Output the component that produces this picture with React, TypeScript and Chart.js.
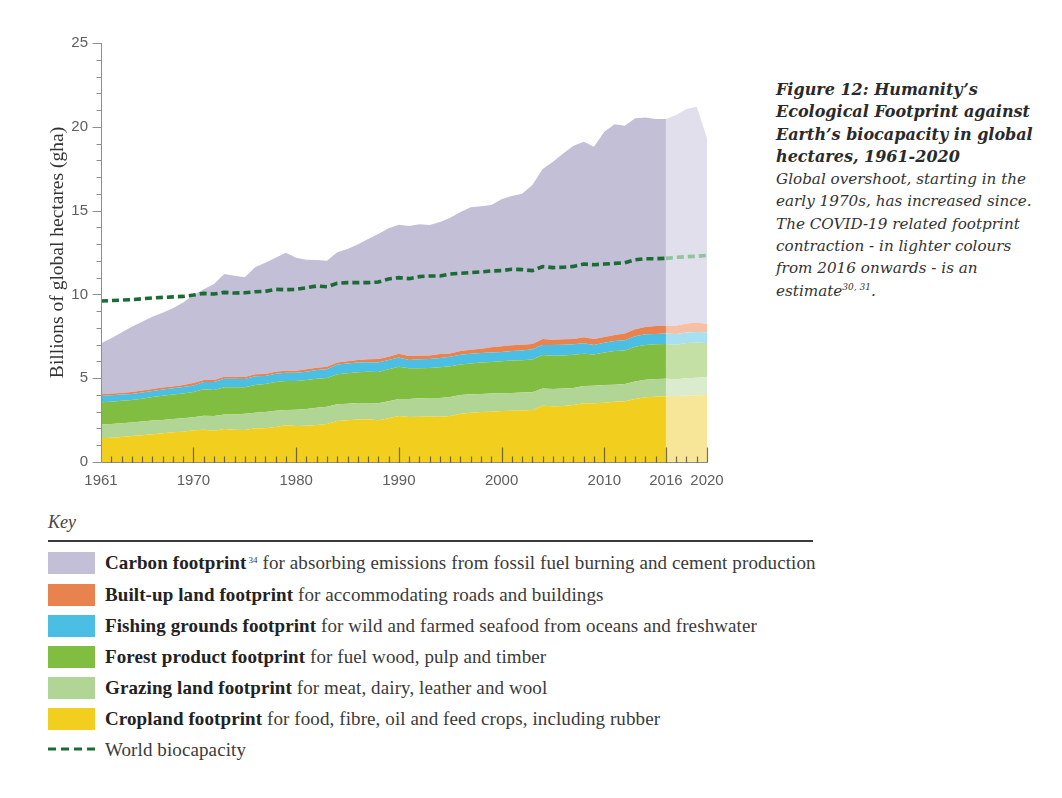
import React, { useEffect, useRef } from "react";
import { Chart, registerables } from "chart.js";

Chart.register(...registerables);

// ---------------- DATA ----------------
const years = Array.from({ length: 60 }, (_, i) => 1961 + i); // 1961..2020
const labeledYears = [1961, 1970, 1980, 1990, 2000, 2010, 2016, 2020];
const majorTickYears = [1970, 1980, 1990, 2000, 2010, 2016, 2020];
const estimateStartYear = 2016;

// Billions of global hectares, per component (stacked bottom → top)
const cropland = [
  1.41, 1.45, 1.49, 1.55, 1.59, 1.65, 1.71, 1.77, 1.81, 1.89,
  1.93, 1.87, 1.97, 1.93, 1.91, 2.01, 2.01, 2.09, 2.19, 2.15,
  2.17, 2.21, 2.27, 2.45, 2.49, 2.53, 2.55, 2.49, 2.61, 2.74,
  2.68, 2.70, 2.72, 2.70, 2.74, 2.88, 2.94, 2.98, 3.00, 3.04,
  3.06, 3.08, 3.10, 3.36, 3.32, 3.34, 3.40, 3.50, 3.50, 3.54,
  3.60, 3.62, 3.76, 3.86, 3.90, 3.92, 3.94, 3.96, 3.98, 4.00,
];
const grazing = [
  0.84, 0.82, 0.82, 0.80, 0.82, 0.82, 0.80, 0.80, 0.80, 0.78,
  0.83, 0.87, 0.87, 0.91, 0.97, 0.93, 0.97, 0.97, 0.91, 0.97,
  0.99, 1.03, 1.03, 0.99, 0.99, 0.99, 0.97, 1.01, 1.01, 1.02,
  1.08, 1.10, 1.10, 1.12, 1.14, 1.12, 1.10, 1.08, 1.08, 1.06,
  1.06, 1.06, 1.06, 1.02, 1.04, 1.04, 1.02, 1.03, 1.05, 1.05,
  1.01, 1.03, 1.05, 1.05, 1.05, 1.05, 0.99, 1.03, 1.05, 1.07,
];
const forest = [
  1.31, 1.33, 1.35, 1.35, 1.37, 1.41, 1.45, 1.45, 1.47, 1.51,
  1.58, 1.56, 1.62, 1.62, 1.58, 1.65, 1.67, 1.71, 1.73, 1.71,
  1.73, 1.73, 1.71, 1.79, 1.81, 1.83, 1.87, 1.87, 1.91, 1.93,
  1.83, 1.79, 1.79, 1.83, 1.83, 1.81, 1.83, 1.87, 1.89, 1.91,
  1.93, 1.93, 1.95, 2.00, 1.98, 1.98, 1.98, 1.93, 1.87, 1.95,
  2.01, 2.01, 2.07, 2.07, 2.07, 2.07, 2.07, 2.11, 2.09, 2.03,
];
const fishing = [
  0.38, 0.38, 0.36, 0.36, 0.36, 0.36, 0.36, 0.38, 0.39, 0.39,
  0.43, 0.47, 0.51, 0.51, 0.49, 0.52, 0.48, 0.50, 0.50, 0.50,
  0.50, 0.52, 0.52, 0.58, 0.58, 0.58, 0.56, 0.56, 0.56, 0.54,
  0.50, 0.54, 0.54, 0.56, 0.57, 0.59, 0.59, 0.57, 0.57, 0.55,
  0.57, 0.59, 0.61, 0.60, 0.64, 0.64, 0.62, 0.62, 0.56, 0.58,
  0.60, 0.60, 0.62, 0.64, 0.62, 0.62, 0.64, 0.62, 0.64, 0.64,
];
const builtUp = [
  0.10, 0.10, 0.10, 0.12, 0.12, 0.12, 0.12, 0.11, 0.12, 0.14,
  0.12, 0.12, 0.12, 0.12, 0.12, 0.12, 0.12, 0.12, 0.12, 0.12,
  0.14, 0.14, 0.16, 0.12, 0.14, 0.16, 0.18, 0.22, 0.19, 0.23,
  0.23, 0.23, 0.20, 0.23, 0.20, 0.22, 0.24, 0.26, 0.30, 0.34,
  0.34, 0.34, 0.32, 0.36, 0.32, 0.32, 0.32, 0.36, 0.36, 0.34,
  0.36, 0.40, 0.42, 0.43, 0.47, 0.47, 0.49, 0.55, 0.57, 0.49,
];
const carbon = [
  3.04, 3.30, 3.60, 3.89, 4.11, 4.31, 4.47, 4.66, 4.92, 5.25,
  5.41, 5.73, 6.13, 6.03, 5.95, 6.39, 6.64, 6.80, 7.04, 6.74,
  6.54, 6.42, 6.32, 6.59, 6.70, 6.88, 7.17, 7.45, 7.66, 7.70,
  7.76, 7.82, 7.79, 7.88, 8.10, 8.30, 8.50, 8.50, 8.49, 8.77,
  8.91, 9.01, 9.49, 10.14, 10.62, 11.08, 11.53, 11.67, 11.47, 12.25,
  12.57, 12.41, 12.59, 12.51, 12.36, 12.34, 12.57, 12.79, 12.87, 11.08,
];
const biocapacity = [
  9.61, 9.63, 9.66, 9.69, 9.74, 9.79, 9.82, 9.85, 9.88, 9.96,
  10.06, 10.02, 10.12, 10.08, 10.10, 10.16, 10.18, 10.30, 10.28, 10.30,
  10.40, 10.50, 10.46, 10.66, 10.70, 10.70, 10.70, 10.74, 10.92, 11.00,
  10.94, 11.06, 11.10, 11.10, 11.22, 11.26, 11.30, 11.34, 11.40, 11.42,
  11.50, 11.48, 11.42, 11.66, 11.60, 11.62, 11.67, 11.81, 11.77, 11.81,
  11.85, 11.89, 12.07, 12.13, 12.13, 12.15, 12.21, 12.25, 12.27, 12.33,
];

// ---------------- STYLE ----------------
const layers = [
  { key: "cropland", values: cropland, dark: "#f2cf1f", light: "#f7e697" },
  { key: "grazing", values: grazing, dark: "#b1d594", light: "#dbebcd" },
  { key: "forest", values: forest, dark: "#80bd41", light: "#c4e0a4" },
  { key: "fishing", values: fishing, dark: "#4bbfe3", light: "#a9e0f1" },
  { key: "builtUp", values: builtUp, dark: "#e8834f", light: "#f5c0a5" },
  { key: "carbon", values: carbon, dark: "#c3bfd6", light: "#e1dfeb" },
];
const bioDark = "#1b6b34";
const bioLight = "#8fc49c";

const legendItems = [
  { bold: "Carbon footprint", sup: "34", rest: " for absorbing emissions from fossil fuel burning and cement production", color: "#c3bfd6" },
  { bold: "Built-up land footprint", rest: " for accommodating roads and buildings", color: "#e8834f" },
  { bold: "Fishing grounds footprint", rest: " for wild and farmed seafood from oceans and freshwater", color: "#4bbfe3" },
  { bold: "Forest product footprint", rest: " for fuel wood, pulp and timber", color: "#80bd41" },
  { bold: "Grazing land footprint", rest: " for meat, dairy, leather and wool", color: "#b1d594" },
  { bold: "Cropland footprint", rest: " for food, fibre, oil and feed crops, including rubber", color: "#f2cf1f" },
];

const tickFont = "'Liberation Sans Narrow', 'Arial Narrow', 'Liberation Sans', sans-serif";

const axisMarks = {
  id: "axisMarks",
  afterDatasetsDraw(chart: any) {
    const { ctx, scales } = chart;
    const x = scales.x;
    const y = scales.y;
    const left = Math.round(x.getPixelForValue(years[0])) + 0.5;
    const right = Math.round(x.getPixelForValue(years[years.length - 1])) + 0.5;
    const bottom = Math.round(y.getPixelForValue(0)) + 0.5;
    ctx.save();
    ctx.strokeStyle = "#8e8e8e";
    ctx.lineWidth = 1;
    ctx.beginPath();
    ctx.moveTo(left, bottom);
    ctx.lineTo(left, y.getPixelForValue(25));
    for (let v = 0; v <= 25; v++) {
      const py = Math.round(y.getPixelForValue(v)) + 0.5;
      const len = v % 5 === 0 ? 9 : 5;
      ctx.moveTo(left - len, py);
      ctx.lineTo(left, py);
    }
    ctx.stroke();
    ctx.beginPath();
    ctx.strokeStyle = "#8a8a8a";
    ctx.moveTo(left, bottom);
    ctx.lineTo(right, bottom);
    ctx.stroke();
    ctx.beginPath();
    ctx.strokeStyle = "rgba(75,65,40,0.75)";
    ctx.lineWidth = 1.2;
    for (const yr of years) {
      if (yr === years[0]) continue;
      const px = Math.round(x.getPixelForValue(yr)) + 0.5;
      const len = majorTickYears.includes(yr) ? 15 : 6;
      ctx.moveTo(px, bottom);
      ctx.lineTo(px, bottom - len);
    }
    ctx.stroke();
    ctx.restore();
  },
};

export default function App() {
  const canvasRef = useRef<HTMLCanvasElement | null>(null);

  useEffect(() => {
    if (!canvasRef.current) return;
    const splitIdx = years.indexOf(estimateStartYear);
    const datasets: any[] = [];
    layers.forEach((l, li) => {
      datasets.push({
        label: l.key,
        data: years.slice(0, splitIdx + 1).map((yr, i) => ({ x: yr, y: l.values[i] })),
        backgroundColor: l.dark,
        borderColor: "transparent",
        borderWidth: 0,
        pointRadius: 0,
        tension: 0,
        fill: li === 0 ? "origin" : "-1",
        stack: "observed",
        order: 1,
      });
    });
    layers.forEach((l, li) => {
      datasets.push({
        label: l.key + " (estimate)",
        data: years.slice(splitIdx).map((yr, i) => ({ x: yr, y: l.values[splitIdx + i] })),
        backgroundColor: l.light,
        borderColor: "transparent",
        borderWidth: 0,
        pointRadius: 0,
        tension: 0,
        fill: li === 0 ? "origin" : "-1",
        stack: "estimate",
        order: 1,
      });
    });
    datasets.push({
      label: "World biocapacity",
      data: years.slice(0, splitIdx + 1).map((yr, i) => ({ x: yr, y: biocapacity[i] })),
      borderColor: bioDark,
      borderWidth: 3.6,
      borderDash: [7, 4],
      pointRadius: 0,
      tension: 0,
      fill: false,
      stack: "bio1",
      order: 0,
    });
    datasets.push({
      label: "World biocapacity (estimate)",
      data: years.slice(splitIdx).map((yr, i) => ({ x: yr, y: biocapacity[splitIdx + i] })),
      borderColor: bioLight,
      borderWidth: 3.6,
      borderDash: [7, 4],
      pointRadius: 0,
      tension: 0,
      fill: false,
      stack: "bio2",
      order: 0,
    });

    const chart = new Chart(canvasRef.current, {
      type: "line",
      data: { datasets },
      options: {
        animation: false,
        responsive: false,
        devicePixelRatio: 1,
        layout: { padding: { left: 40, top: 43, right: 33, bottom: 0 } },
        plugins: { legend: { display: false }, tooltip: { enabled: false } },
        scales: {
          x: {
            type: "linear",
            min: years[0],
            max: years[years.length - 1],
            grid: { display: false, drawTicks: false },
            border: { display: false },
            afterBuildTicks: (axis: any) => {
              axis.ticks = years.map((v) => ({ value: v }));
            },
            afterFit: (scale: any) => {
              scale.height = 38;
            },
            ticks: {
              autoSkip: false,
              maxRotation: 0,
              minRotation: 0,
              padding: 10,
              color: "#5e5e5e",
              font: { family: tickFont, size: 15 },
              callback: (v: any) => (labeledYears.includes(Number(v)) ? String(v) : ""),
            },
          },
          y: {
            stacked: true,
            min: 0,
            max: 25,
            grid: { display: false, drawTicks: false },
            border: { display: false },
            afterFit: (scale: any) => {
              scale.width = 61;
            },
            ticks: {
              stepSize: 5,
              padding: 13,
              color: "#5e5e5e",
              font: { family: tickFont, size: 15 },
            },
            title: {
              display: true,
              text: "Billions of global hectares (gha)",
              color: "#333",
              font: { family: "'Liberation Serif', serif", size: 19.5 },
              padding: { top: 6, bottom: 0 },
            },
          },
        },
      },
      plugins: [axisMarks],
    });
    return () => chart.destroy();
  }, []);

  const serif = "'Liberation Serif', 'Times New Roman', serif";
  const rowCenters = [563, 595, 626, 657, 688, 719];

  return (
    <div style={{ position: "absolute", left: 0, top: 0, width: 1062, height: 798, background: "#fff", overflow: "hidden" }}>
      <canvas
        ref={canvasRef}
        width={740}
        height={500}
        style={{ position: "absolute", left: 0, top: 0, width: 740, height: 500 }}
      />
      <div
        style={{
          position: "absolute",
          left: 776,
          top: 79,
          width: 286,
          fontFamily: "'DejaVu Serif', serif",
          lineHeight: "22.3px",
          color: "#333",
          whiteSpace: "nowrap",
        }}
      >
        <div style={{ fontWeight: "bold", fontStyle: "italic", color: "#2a2a2a", fontSize: 16 }}>
          Figure 12: Humanity’s
          <br />
          Ecological Footprint against
          <br />
          Earth’s biocapacity in global
          <br />
          hectares, 1961-2020
        </div>
        <div style={{ fontStyle: "italic", fontSize: 15.2 }}>
          Global overshoot, starting in the
          <br />
          early 1970s, has increased since.
          <br />
          The COVID-19 related footprint
          <br />
          contraction - in lighter colours
          <br />
          from 2016 onwards - is an
          <br />
          estimate
          <sup style={{ fontSize: 9, lineHeight: 0, verticalAlign: "6px" }}>30, 31</sup>.
        </div>
      </div>

      <div
        style={{
          position: "absolute",
          left: 48,
          top: 511,
          fontFamily: serif,
          fontStyle: "italic",
          fontSize: 18,
          lineHeight: "22px",
          color: "#444",
        }}
      >
        Key
      </div>
      <div style={{ position: "absolute", left: 48, top: 540, width: 765, height: 2, background: "#3a3a3a" }} />

      {legendItems.map((item, i) => (
        <React.Fragment key={item.bold}>
          <div
            style={{
              position: "absolute",
              left: 48,
              top: rowCenters[i] - 11,
              width: 47,
              height: 22,
              background: item.color,
            }}
          />
          <div
            style={{
              position: "absolute",
              left: 105,
              top: rowCenters[i] - 12,
              fontFamily: serif,
              fontSize: 19,
              letterSpacing: "0.1px",
              lineHeight: "24px",
              color: "#3a3a3a",
              whiteSpace: "nowrap",
            }}
          >
            <span style={{ fontWeight: "bold", color: "#222" }}>{item.bold}</span>
            {item.sup ? (
              <sup style={{ fontSize: 9, lineHeight: 0, verticalAlign: "6px", marginLeft: 2 }}>{item.sup}</sup>
            ) : null}
            {item.rest}
          </div>
        </React.Fragment>
      ))}
      <svg style={{ position: "absolute", left: 48, top: 744 }} width={48} height={10}>
        <line x1={0} y1={5} x2={48} y2={5} stroke={bioDark} strokeWidth={3.2} strokeDasharray="8,5" />
      </svg>
      <div
        style={{
          position: "absolute",
          left: 105,
          top: 738,
          fontFamily: serif,
          fontSize: 19,
          letterSpacing: "0.1px",
          lineHeight: "24px",
          color: "#3a3a3a",
          whiteSpace: "nowrap",
        }}
      >
        World biocapacity
      </div>
    </div>
  );
}
